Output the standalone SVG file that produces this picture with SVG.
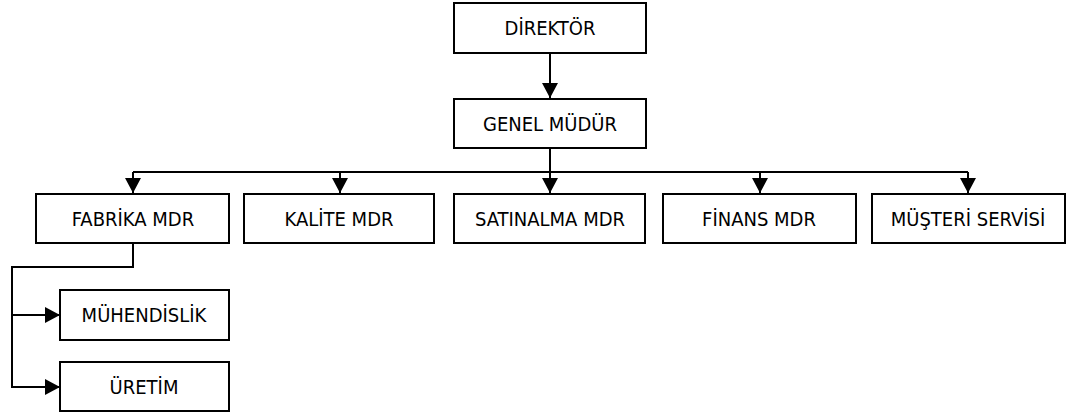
<svg xmlns="http://www.w3.org/2000/svg" width="1075" height="417" viewBox="0 0 1075 417">
  <defs>
    <marker id="arrow" markerUnits="userSpaceOnUse" markerWidth="16" markerHeight="16" refX="15" refY="8" orient="auto">
      <path d="M0,0 L15,8 L0,16 Z" fill="#000"/>
    </marker>
  </defs>
  <style>
    .box { fill: #fff; stroke: #000; stroke-width: 2; }
    .lbl { font-family: "DejaVu Sans Condensed", "DejaVu Sans", sans-serif; font-size: 20px; fill: #000; text-anchor: middle; }
    .conn { fill: none; stroke: #000; stroke-width: 2; }
  </style>
  <rect width="1075" height="417" fill="#fff"/>

  <g id="connectors">
    <path class="conn" d="M550,53 V98" marker-end="url(#arrow)"/>
    <path class="conn" d="M550,148 V193" marker-end="url(#arrow)"/>
    <path class="conn" d="M133,172 H968"/>
    <path class="conn" d="M133,172 V193" marker-end="url(#arrow)"/>
    <path class="conn" d="M340,172 V193" marker-end="url(#arrow)"/>
    <path class="conn" d="M760,172 V193" marker-end="url(#arrow)"/>
    <path class="conn" d="M968,172 V193" marker-end="url(#arrow)"/>
    <path class="conn" d="M133,243 V267 H12 V387 H60" marker-end="url(#arrow)"/>
    <path class="conn" d="M12,315 H60" marker-end="url(#arrow)"/>
  </g>

  <g id="direktor">
    <rect class="box" x="454" y="3" width="192" height="50"/>
    <text class="lbl" x="550" y="35">DİREKTÖR</text>
  </g>
  <g id="genel-mudur">
    <rect class="box" x="454" y="99" width="192" height="49"/>
    <text class="lbl" x="550" y="131">GENEL MÜDÜR</text>
  </g>
  <g id="fabrika">
    <rect class="box" x="36" y="194" width="193" height="49"/>
    <text class="lbl" x="133" y="226">FABRİKA MDR</text>
  </g>
  <g id="kalite">
    <rect class="box" x="244" y="194" width="190" height="49"/>
    <text class="lbl" x="339" y="226">KALİTE MDR</text>
  </g>
  <g id="satinalma">
    <rect class="box" x="454" y="194" width="191" height="49"/>
    <text class="lbl" x="550" y="226">SATINALMA MDR</text>
  </g>
  <g id="finans">
    <rect class="box" x="663" y="194" width="193" height="49"/>
    <text class="lbl" x="759" y="226">FİNANS MDR</text>
  </g>
  <g id="musteri">
    <rect class="box" x="872" y="194" width="193" height="49"/>
    <text class="lbl" x="968" y="226">MÜŞTERİ SERVİSİ</text>
  </g>
  <g id="muhendislik">
    <rect class="box" x="60" y="290" width="169" height="50"/>
    <text class="lbl" x="144" y="322">MÜHENDİSLİK</text>
  </g>
  <g id="uretim">
    <rect class="box" x="60" y="362" width="169" height="49"/>
    <text class="lbl" x="144" y="394">ÜRETİM</text>
  </g>
</svg>
